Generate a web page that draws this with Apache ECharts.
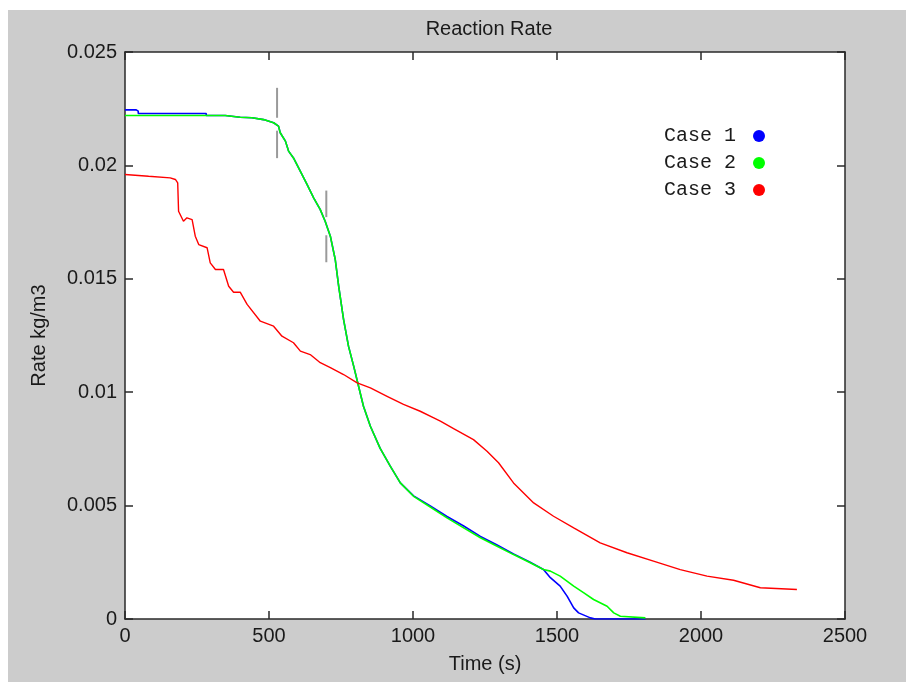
<!DOCTYPE html>
<html>
<head>
<meta charset="utf-8">
<script src="https://cdn.jsdelivr.net/npm/echarts@6/dist/echarts.min.js"></script>
<style>
  html, body { margin: 0; padding: 0; background: #ffffff; }
  #frame { position: absolute; left: 8px; top: 10px; width: 898px; height: 672px; background: #cccccc; }
  #chart { position: absolute; left: 0; top: 0; width: 912px; height: 685px; }
</style>
</head>
<body>
<div id="frame"></div>
<div id="chart"></div>
<script>
// ---- data (time in s, rate in kg/m3) ----
const case2 = [
  [0, 0.02220], [348, 0.02220], [400, 0.02212], [441, 0.02210], [481, 0.02202],
  [516, 0.02188], [533, 0.02173], [539, 0.02144], [557, 0.02107], [568, 0.02063],
  [585, 0.02033], [609, 0.01974], [632, 0.01916], [655, 0.01857], [678, 0.01805],
  [695, 0.01754], [713, 0.01688], [730, 0.01585], [742, 0.01467], [759, 0.01320],
  [776, 0.01203], [794, 0.01115], [811, 0.01026], [828, 0.00938], [852, 0.00850],
  [886, 0.00752], [921, 0.00674], [956, 0.00600], [1002, 0.00541], [1060, 0.00494],
  [1118, 0.00446], [1176, 0.00402], [1234, 0.00358], [1292, 0.00321], [1349, 0.00284],
  [1407, 0.00248], [1453, 0.00218], [1477, 0.00211], [1511, 0.00189], [1558, 0.00145],
  [1592, 0.00116], [1627, 0.00086], [1674, 0.00056], [1697, 0.00027], [1720, 0.00012],
  [1807, 0.00005]
];
const case1 = [
  [0, 0.02245], [39, 0.02245], [39, 0.02239], [46, 0.02239], [46, 0.02229],
  [282, 0.02229], [282, 0.02220], [348, 0.02220], [400, 0.02212], [441, 0.02210],
  [481, 0.02202], [516, 0.02188], [533, 0.02173], [539, 0.02144], [557, 0.02107],
  [568, 0.02063], [585, 0.02033], [609, 0.01974], [632, 0.01916], [655, 0.01857],
  [678, 0.01805], [695, 0.01754], [713, 0.01688], [730, 0.01585], [742, 0.01467],
  [759, 0.01320], [776, 0.01203], [794, 0.01115], [811, 0.01026], [828, 0.00938],
  [852, 0.00850], [886, 0.00752], [921, 0.00674], [956, 0.00600], [1002, 0.00543],
  [1060, 0.00499], [1118, 0.00452], [1176, 0.00410], [1234, 0.00364], [1292, 0.00326],
  [1349, 0.00287], [1407, 0.00250], [1453, 0.00218], [1477, 0.00182], [1511, 0.00145],
  [1535, 0.00101], [1558, 0.00049], [1575, 0.00027], [1616, 0.00005], [1633, 0],
  [1807, 0]
];
const case3 = [
  [0, 0.01960], [82, 0.01952], [157, 0.01945], [175, 0.01938], [183, 0.01923],
  [186, 0.01798], [203, 0.01754], [215, 0.01769], [233, 0.01761], [244, 0.01688],
  [256, 0.01651], [285, 0.01637], [296, 0.01570], [314, 0.01541], [342, 0.01541],
  [360, 0.01467], [377, 0.01441], [400, 0.01441], [424, 0.01387], [470, 0.01313],
  [516, 0.01291], [545, 0.01247], [585, 0.01218], [609, 0.01181], [643, 0.01166],
  [678, 0.01130], [713, 0.01108], [759, 0.01078], [806, 0.01041], [852, 0.01019],
  [910, 0.00982], [967, 0.00946], [1025, 0.00916], [1072, 0.00887], [1095, 0.00872],
  [1141, 0.00839], [1210, 0.00791], [1257, 0.00740], [1297, 0.00689], [1349, 0.00600],
  [1419, 0.00512], [1488, 0.00453], [1558, 0.00402], [1650, 0.00336], [1743, 0.00292],
  [1835, 0.00255], [1928, 0.00218], [2021, 0.00189], [2113, 0.00171], [2206, 0.00138],
  [2333, 0.00130]
];
// vertical gray markers: [time, top, gapTop, gapBottom, bottom]
const markers = [
  [528, 0.02342, 0.02210, 0.02153, 0.02032],
  [699, 0.01889, 0.01772, 0.01692, 0.01573]
];
const seriesNames = ['Case 1', 'Case 2', 'Case 3'];
const xTickLabels = ['0', '500', '1000', '1500', '2000', '2500'];
const yTickLabels = ['0', '0.005', '0.01', '0.015', '0.02', '0.025'];

const chart = echarts.init(document.getElementById('chart'), null, { renderer: 'canvas' });
const FONT = 'Liberation Sans, Arial, sans-serif';
const TXT = '#1a1a1a';

const axisCommon = {
  axisLine: { show: true, onZero: false, lineStyle: { color: '#2a2a2a', width: 1.5 } },
  axisTick: { show: true, inside: true, length: 8, lineStyle: { color: '#2a2a2a', width: 1.5 } },
  splitLine: { show: false }
};

chart.setOption({
  backgroundColor: 'transparent',
  animation: false,
  title: {
    text: 'Reaction Rate', left: 484, top: 14, textAlign: 'center',
    textStyle: { fontFamily: FONT, fontSize: 20, fontWeight: 'normal', color: TXT }
  },
  grid: { left: 125, top: 52, width: 720, height: 567, backgroundColor: '#ffffff', show: true, borderWidth: 0 },
  legend: {
    data: seriesNames, orient: 'vertical', left: 659, top: 121, align: 'right',
    icon: 'circle', itemWidth: 12, itemHeight: 12, itemGap: 7,
    formatter: n => n + ' ',
    textStyle: { fontFamily: 'Liberation Mono, Courier New, monospace', fontSize: 20, color: TXT, lineHeight: 20 }
  },
  xAxis: [
    Object.assign({
      type: 'value', min: 0, max: 2500, interval: 500, position: 'bottom',
      name: 'Time (s)', nameLocation: 'middle', nameGap: 35,
      nameTextStyle: { fontFamily: FONT, fontSize: 20, color: TXT },
      axisLabel: { margin: 7, fontFamily: FONT, fontSize: 20, color: TXT,
        formatter: v => xTickLabels[Math.round(v / 500)] }
    }, axisCommon),
    Object.assign({
      type: 'value', min: 0, max: 2500, interval: 500, position: 'top',
      axisLabel: { show: false }
    }, axisCommon)
  ],
  yAxis: [
    Object.assign({
      type: 'value', min: 0, max: 0.025, interval: 0.005, position: 'left',
      name: 'Rate kg/m3', nameLocation: 'middle', nameGap: 76, nameRotate: 90,
      nameTextStyle: { fontFamily: FONT, fontSize: 20, color: TXT },
      axisLabel: { margin: 8, fontFamily: FONT, fontSize: 20, color: TXT,
        formatter: v => yTickLabels[Math.round(v / 0.005)] }
    }, axisCommon),
    Object.assign({
      type: 'value', min: 0, max: 0.025, interval: 0.005, position: 'right',
      axisLabel: { show: false }
    }, axisCommon)
  ],
  series: [
    {
      name: 'Case 1', type: 'line', data: case1, showSymbol: false, symbol: 'circle', z: 2,
      itemStyle: { color: '#0000ff' }, lineStyle: { color: '#0000ff', width: 1.6 }
    },
    {
      name: 'Case 2', type: 'line', data: case2, showSymbol: false, symbol: 'circle', z: 3,
      itemStyle: { color: '#00ff00' }, lineStyle: { color: '#00ff00', width: 1.6 }
    },
    {
      name: 'Case 3', type: 'line', data: case3, showSymbol: false, symbol: 'circle', z: 3,
      itemStyle: { color: '#ff0000' }, lineStyle: { color: '#ff0000', width: 1.4 }
    },
    {
      name: 'markers', type: 'custom', data: markers, z: 4,
      renderItem: (params, api) => {
        const x = api.value(0);
        const p1 = api.coord([x, api.value(1)]);
        const p2 = api.coord([x, api.value(2)]);
        const p3 = api.coord([x, api.value(3)]);
        const p4 = api.coord([x, api.value(4)]);
        const st = { stroke: '#9a9a9a', lineWidth: 2 };
        return { type: 'group', children: [
          { type: 'line', shape: { x1: p1[0], y1: p1[1], x2: p2[0], y2: p2[1] }, style: st },
          { type: 'line', shape: { x1: p3[0], y1: p3[1], x2: p4[0], y2: p4[1] }, style: st }
        ] };
      }
    }
  ]
});
</script>
</body>
</html>
